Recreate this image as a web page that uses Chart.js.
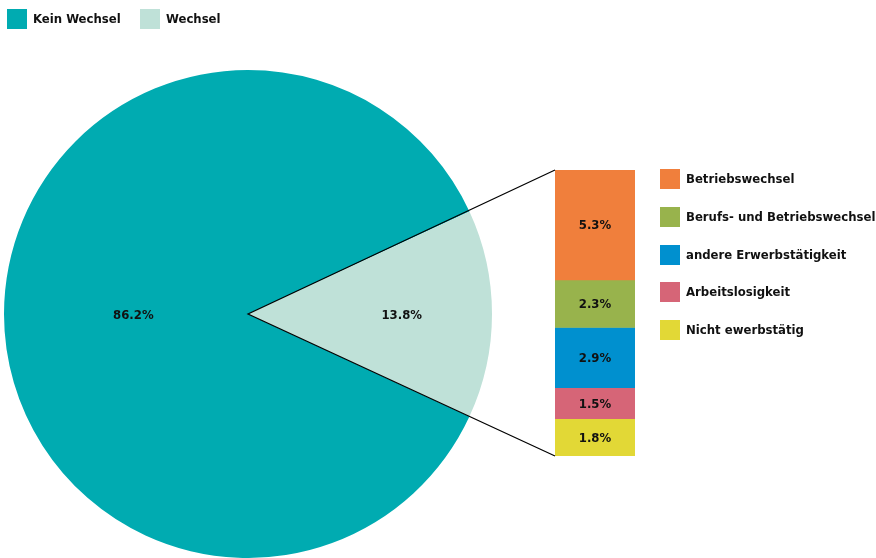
<!DOCTYPE html>
<html lang="de">
<head>
<meta charset="utf-8">
<title>Wechsel</title>
<script src="https://cdn.jsdelivr.net/npm/chart.js@4.4.1/dist/chart.umd.min.js"></script>
<style>
    html, body { margin: 0; padding: 0; background: #fff; }
    .wrap { position: relative; width: 876px; height: 558px; overflow: hidden; }
    .wrap canvas { position: absolute; left: 0; top: 0; }
    .legend { position: absolute; font-family: "DejaVu Sans Condensed", "DejaVu Sans", sans-serif;
              font-weight: bold; font-size: 13px; color: #111; }
    .legend .item { position: absolute; white-space: nowrap; line-height: 20px; }
    .legend .box { display: inline-block; width: 20px; height: 20px; vertical-align: top; margin-right: 6px; }
</style>
</head>
<body>
<div class="wrap">
    <canvas id="pie-chart" width="876" height="558"></canvas>
    <canvas id="bar-chart" width="876" height="558"></canvas>
    <div class="legend" id="pie-legend"></div>
    <div class="legend" id="bar-legend"></div>
</div>
<script>
// Pie: Kein Wechsel / Wechsel
const pieLabels = ['Kein Wechsel', 'Wechsel'];
const pieValues = [86.2, 13.8];
const pieColors = ['#00abb1', '#bfe1d8'];

// Breakdown of "Wechsel"
const barLabels = ['Betriebswechsel', 'Berufs- und Betriebswechsel', 'andere Erwerbstätigkeit', 'Arbeitslosigkeit', 'Nicht ewerbstätig'];
const barValues = [5.3, 2.3, 2.9, 1.5, 1.8];
const barColors = ['#f07f3c', '#98b34c', '#0090cf', '#d66577', '#e2d836'];

const FONT = '"DejaVu Sans Condensed", "DejaVu Sans", sans-serif';

function fmt(v) {
    return v.toFixed(1) + '%';
}

// place Wechsel slice centred on 3 o'clock
const pieTotal = pieValues.reduce((a, b) => a + b, 0);
const pieRotation = 90 - (pieValues[1] / pieTotal) * 180 - (pieValues[0] / pieTotal) * 360;

const pieLabelPos = [0.47, 0.63];

const pieValueLabels = {
    id: 'pieValueLabels',
    afterDatasetsDraw(chart) {
        const ctx = chart.ctx;
        const meta = chart.getDatasetMeta(0);
        ctx.save();
        ctx.font = 'bold 13px ' + FONT;
        ctx.fillStyle = '#111';
        ctx.textAlign = 'center';
        ctx.textBaseline = 'middle';
        meta.data.forEach((arc, i) => {
            const p = arc.getProps(['x', 'y', 'startAngle', 'endAngle', 'outerRadius']);
            const mid = (p.startAngle + p.endAngle) / 2;
            const r = p.outerRadius * pieLabelPos[i];
            ctx.fillText(fmt(pieValues[i]), p.x + Math.cos(mid) * r, p.y + Math.sin(mid) * r + 2);
        });
        ctx.restore();
    }
};

const pieChart = new Chart(document.getElementById('pie-chart'), {
    type: 'pie',
    data: {
        labels: pieLabels,
        datasets: [{
            data: pieValues,
            backgroundColor: pieColors,
            borderWidth: 0
        }]
    },
    options: {
        responsive: false,
        animation: false,
        rotation: pieRotation,
        layout: { padding: { left: 4, right: 384, top: 70, bottom: 0 } },
        plugins: {
            legend: { display: false },
            tooltip: { enabled: false }
        }
    },
    plugins: [pieValueLabels]
});

// bar segment labels + connector lines to pie centre
const barExtras = {
    id: 'barExtras',
    afterDatasetsDraw(chart) {
        const ctx = chart.ctx;
        ctx.save();
        ctx.font = 'bold 13px ' + FONT;
        ctx.fillStyle = '#111';
        ctx.textAlign = 'center';
        ctx.textBaseline = 'middle';
        chart.data.datasets.forEach((ds, i) => {
            const bar = chart.getDatasetMeta(i).data[0];
            const p = bar.getProps(['x', 'y', 'base']);
            ctx.fillText(fmt(ds.data[0]), p.x, (p.y + p.base) / 2 + 1);
        });

        const arc = pieChart.getDatasetMeta(0).data[0];
        const first = chart.getDatasetMeta(0).data[0];
        const last = chart.getDatasetMeta(chart.data.datasets.length - 1).data[0];
        const left = first.x - first.width / 2;
        ctx.strokeStyle = '#000';
        ctx.lineWidth = 1.2;
        ctx.beginPath();
        ctx.moveTo(left, Math.min(first.y, first.base));
        ctx.lineTo(arc.x, arc.y);
        ctx.lineTo(left, Math.max(last.y, last.base));
        ctx.stroke();
        ctx.restore();
    }
};

const barTotal = barValues.reduce((a, b) => a + b, 0);

new Chart(document.getElementById('bar-chart'), {
    type: 'bar',
    data: {
        labels: ['Wechsel'],
        datasets: barLabels.map((label, i) => ({
            label: label,
            data: [barValues[i]],
            backgroundColor: barColors[i],
            borderWidth: 0,
            barPercentage: 1,
            categoryPercentage: 1
        }))
    },
    options: {
        responsive: false,
        animation: false,
        layout: { padding: { left: 555, right: 241, top: 170, bottom: 102 } },
        scales: {
            x: { stacked: true, display: false },
            y: { stacked: true, display: false, reverse: true, min: 0, max: barTotal }
        },
        plugins: {
            legend: { display: false },
            tooltip: { enabled: false }
        }
    },
    plugins: [barExtras]
});

// HTML legends
function buildLegend(el, labels, colors, positions) {
    labels.forEach((label, i) => {
        const item = document.createElement('div');
        item.className = 'item';
        item.style.left = positions[i][0] + 'px';
        item.style.top = positions[i][1] + 'px';
        item.innerHTML = '<span class="box" style="background:' + colors[i] + '"></span>' + label;
        el.appendChild(item);
    });
}

buildLegend(document.getElementById('pie-legend'), pieLabels, pieColors, [[7, 9], [140, 9]]);
buildLegend(document.getElementById('bar-legend'), barLabels, barColors,
    barLabels.map((l, i) => [660, 169 + i * 37.8]));
</script>
</body>
</html>
